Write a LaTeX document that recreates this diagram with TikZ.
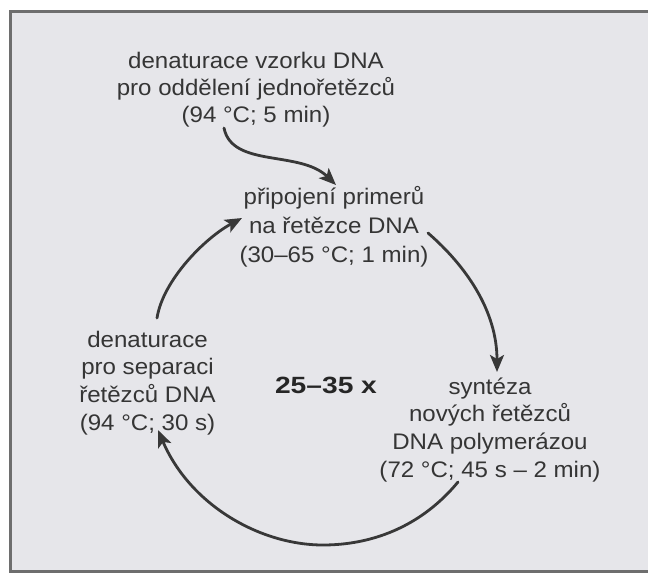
\documentclass[tikz,border=0pt]{standalone}
\usepackage{fontspec}
\setmainfont{Liberation Sans}[FakeStretch=1.07]
\newfontfamily\boldwide{Liberation Sans}[FakeStretch=1.2]
\usetikzlibrary{arrows.meta}
\definecolor{bgfill}{HTML}{E6E6EA}
\definecolor{ink}{HTML}{353535}
\definecolor{framecol}{HTML}{6E6E6E}
\definecolor{arrcol}{HTML}{383838}
\begin{document}
\begin{tikzpicture}[x=1pt,y=-1pt,
  lbl/.style={align=center, inner sep=0pt, text=ink},
  cyc/.style={draw=arrcol, line width=2.8pt, line cap=round,
    -{Stealth[length=17pt,width=14pt,inset=4pt]}}]
\useasboundingbox (0,0) rectangle (648,574);
\fill[white] (0,0) rectangle (648,574);
\fill[bgfill] (10.5,11) rectangle (660,571);
\draw[framecol, line width=3pt] (660,11) -- (10.5,11) -- (10.5,571) -- (660,571);

\node[lbl, font=\fontsize{22.5}{27}\selectfont, anchor=north] (init) at (256,49.1)
  {\strut denaturace vzorku DNA\\pro oddělení jednořetězců\\(94 °C; 5 min)\strut};
\node[lbl, font=\fontsize{22.5}{29}\selectfont, anchor=north] (anneal) at (334,183.7)
  {\strut připojení primerů\\na řetězce DNA\\(30–65 °C; 1 min)\strut};
\node[lbl, font=\fontsize{22.5}{27.7}\selectfont, anchor=north] (denat) at (147.5,327.6)
  {\strut denaturace\\pro separaci\\řetězců DNA\\(94 °C; 30 s)\strut};
\node[lbl, font=\fontsize{22.5}{27.7}\selectfont, anchor=north] (synth) at (490,374.6)
  {\strut syntéza\\nových řetězců\\DNA polymerázou\\(72 °C; 45 s – 2 min)\strut};
\node[lbl, font=\boldwide\bfseries\fontsize{23.5}{27}\selectfont, anchor=base, text=black!85] (count) at (326,393) {25–35 x};

\coordinate (a1s) at (224,128);
\coordinate (a1e) at (336,185);
\coordinate (a2s) at (428,233);
\coordinate (a2e) at (497,372);
\coordinate (a3s) at (458,482);
\coordinate (a3m) at (323,545);
\coordinate (a3e) at (158,430);
\coordinate (a4s) at (157,318);
\coordinate (a4e) at (242,218);

\draw[cyc] (a1s) .. controls (232,168) and (300,150) .. (a1e);
\draw[cyc] (a2s) .. controls (465,265) and (497,310) .. (a2e);
\draw[cyc] (a3s) .. controls (420,528) and (370,545) .. (a3m)
                 .. controls (260,545) and (190,505) .. (a3e);
\draw[cyc] (a4s) .. controls (163,280) and (205,238) .. (a4e);
\end{tikzpicture}
\end{document}
